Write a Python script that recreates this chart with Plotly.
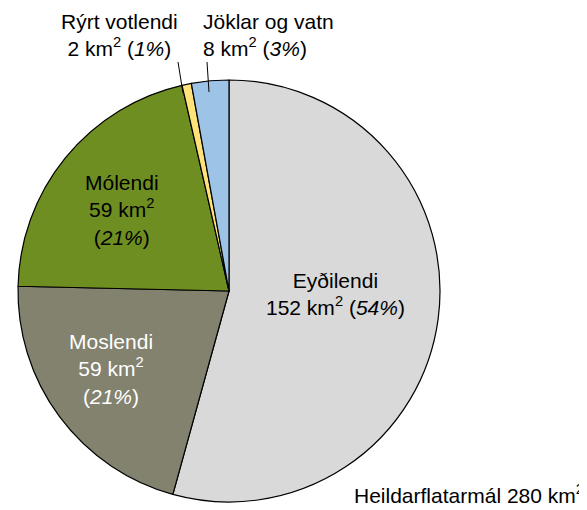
import plotly.graph_objects as go

categories = ["Eyðilendi", "Moslendi", "Mólendi", "Rýrt votlendi", "Jöklar og vatn"]
areas_km2 = [152, 59, 59, 2, 8]
percents = [54, 21, 21, 1, 3]
colors = ["#D9D9D9", "#82826F", "#6F8E22", "#FFE27A", "#9DC3E6"]
total_label = "Heildarflatarmál 280 km<sup>2</sup>"

W, H = 587, 510
OFF = 8  # page body margin offset
FONT = "Liberation Sans, Arial, sans-serif"
FS = 21

def px(x):
    return (x - OFF) / W

def py(y):
    return 1 - (y - OFF) / H

fig = go.Figure(go.Pie(
    labels=categories,
    values=areas_km2,
    sort=False,
    direction="clockwise",
    rotation=0,
    marker=dict(colors=colors, line=dict(color="#000000", width=1.2)),
    textinfo="none",
    hoverinfo="label+value+percent",
    showlegend=False,
    domain=dict(x=[px(18), px(440)], y=[py(502), py(80)]),
))

ann = []
def label(x, y, text, color="#000000", xanchor="center", align="center"):
    ann.append(dict(x=px(x), y=py(y), xref="paper", yref="paper", text=text,
                    showarrow=False, xanchor=xanchor, yanchor="middle", align=align,
                    font=dict(family=FONT, size=FS, color=color)))

label(335, 294, f"{categories[0]}<br>{areas_km2[0]} km<sup>2</sup> (<i>{percents[0]}%</i>)")
label(111, 369, f"{categories[1]}<br>{areas_km2[1]} km<sup>2</sup><br>(<i>{percents[1]}%</i>)", color="#FFFFFF")
label(122, 210, f"{categories[2]}<br>{areas_km2[2]} km<sup>2</sup><br>(<i>{percents[2]}%</i>)")
label(119, 35, f"{categories[3]}<br>{areas_km2[3]} km<sup>2</sup> (<i>{percents[3]}%</i>)")
label(201, 35, f"{categories[4]}<br>{areas_km2[4]} km<sup>2</sup> (<i>{percents[4]}%</i>)",
      xanchor="left", align="left")
label(586, 494, total_label, xanchor="right")

fig.update_layout(
    annotations=ann,
    width=W, height=H,
    margin=dict(l=0, r=0, t=0, b=0),
    paper_bgcolor="#FFFFFF",
    plot_bgcolor="#FFFFFF",
    font=dict(family=FONT, size=FS),
    shapes=[
        dict(type="line", xref="paper", yref="paper", x0=px(183), y0=py(93), x1=px(178), y1=py(62),
             line=dict(color="#000000", width=1)),
        dict(type="line", xref="paper", yref="paper", x0=px(209), y0=py(92), x1=px(207), y1=py(62),
             line=dict(color="#000000", width=1)),
    ],
)

fig.write_html("out.html")
